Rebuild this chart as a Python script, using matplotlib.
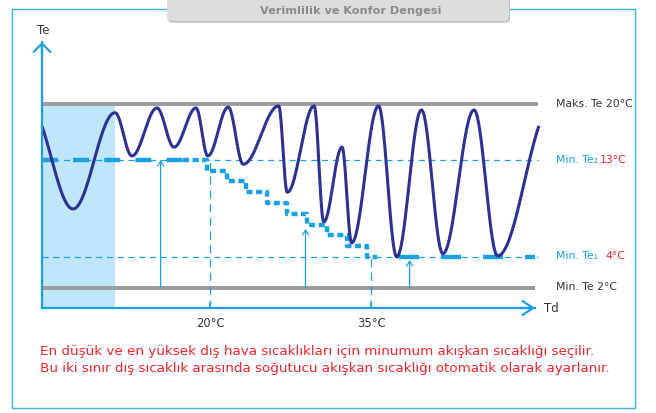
import matplotlib.pyplot as plt
import numpy as np
from matplotlib.patches import Rectangle, FancyBboxPatch

# ── Data ──────────────────────────────────────────────────────────────────────
# outdoor temperature (Td, °C) ticks shown on the x axis
td_ticks = [20, 35]
td_tick_labels = ["20°C", "35°C"]

# refrigerant temperature limits (Te, °C)
te_max, te_min = 20, 2
te2, te1 = 13, 4

# supply temperature oscillation: turning points (Td, Te)
wave_td = np.array([3.2, 7.24, 11.15, 12.73, 15.06, 16.65, 18.7, 19.8, 21.7,
                    23.1, 26.4, 27.2, 29.7, 30.6, 32.3, 33.2, 35.7, 37.4,
                    39.7, 41.7, 44.6, 46.8, 51.8])
wave_te = np.array([19.6, 8.45, 18.9, 13.5, 19.5, 14.6, 19.5, 13.5, 19.6,
                    12.6, 19.75, 10.0, 19.75, 7.25, 14.6, 5.3, 19.75, 4.0,
                    19.25, 4.3, 19.25, 4.1, 19.6])
wave_span = (4.35, 50.65)

# automatic set-point staircase between the two outdoor limits
step_td = [17.5, 19.7, 21.6, 23.4, 25.3, 27.2, 29.0, 30.9, 32.8, 34.6, 35.6]
step_te = [13, 12, 11, 10, 9, 8, 7, 6, 5, 4, 4]

# vertical arrows (Td, Te at tip)
arrow_td = [15.4, 28.9, 38.6]
arrow_te = [13, 6.6, 3.8]

shade_td = (4.35, 11.15)

# ── Colours ───────────────────────────────────────────────────────────────────
C_AX = "#1ba1e2"
C_WAVE = "#2e3192"
C_GREY = "#9b9b9d"
C_SHADE = "#bfe5f8"
C_RED = "#e8262d"
C_TXT = "#333333"

plt.rcParams["font.family"] = "DejaVu Sans"

# schematic (non-linear) Te axis
KT = np.array([-100, 2, 4, 13, 20, 100], float)
KP = np.array([20 - 102 * 15.5, 20, 51, 148, 204, 204 + 80 * 8], float)


def fwd(t):
    return np.interp(np.asarray(t, float), KT, KP)


def inv(p):
    return np.interp(np.asarray(p, float), KP, KT)


def wave(xs):
    pk = fwd(wave_te)
    i = np.clip(np.searchsorted(wave_td, xs) - 1, 0, len(wave_td) - 2)
    t = (xs - wave_td[i]) / (wave_td[i + 1] - wave_td[i])
    return inv(pk[i] + (pk[i + 1] - pk[i]) * (1 - np.cos(np.pi * t)) / 2)


fig = plt.figure(figsize=(6.56, 4.14), dpi=100)

# ── Page frame, header tab and captions ───────────────────────────────────────
bg = fig.add_axes([0, 0, 1, 1])
bg.set_xlim(0, 656)
bg.set_ylim(414, 0)
bg.axis("off")

bg.add_patch(Rectangle((12, 10), 623, 399, fill=False, ec="#3ab4e6", lw=1.0))
bg.add_patch(FancyBboxPatch((168, -8), 342, 31.5,
                            boxstyle="round,pad=0,rounding_size=4",
                            fc="#b9babc", ec="none", zorder=3))
bg.add_patch(FancyBboxPatch((167, -8), 342, 30,
                            boxstyle="round,pad=0,rounding_size=4",
                            fc="#dcdddf", ec="none", zorder=4))
bg.text(351, 11, "Verimlilik ve Konfor Dengesi", ha="center", va="center",
        fontsize=8.1, fontweight="bold", color="#8a8a8c", zorder=5)

bg.text(43, 30, "Te", ha="center", va="center", fontsize=8.5, color=C_TXT)
bg.text(551, 309, "Td", ha="center", va="center", fontsize=8.5, color=C_TXT)

bg.text(556, 104, "Maks. Te 20°C", ha="left", va="center",
        fontsize=7.8, color=C_TXT)
bg.text(556, 160, "Min. Te₂", ha="left", va="center", fontsize=7.8, color=C_AX)
bg.text(600, 160, "13°C", ha="left", va="center", fontsize=7.8, color=C_RED)
bg.text(556, 256, "Min. Te₁", ha="left", va="center", fontsize=7.8, color=C_AX)
bg.text(605, 256, "4°C", ha="left", va="center", fontsize=7.8, color=C_RED)
bg.text(556, 287, "Min. Te 2°C", ha="left", va="center",
        fontsize=7.8, color=C_TXT)

bg.text(40, 352, "En düşük ve en yüksek dış hava sıcaklıkları için minumum "
        "akışkan sıcaklığı seçilir.", ha="left", va="center",
        fontsize=9.7, color=C_RED)
bg.text(40, 369, "Bu iki sınır dış sıcaklık arasında soğutucu akışkan "
        "sıcaklığı otomatik olarak ayarlanır.", ha="left", va="center",
        fontsize=9.7, color=C_RED)

# ── Diagram ───────────────────────────────────────────────────────────────────
ax = fig.add_axes([42 / 656, 105 / 414, 493 / 656, 266 / 414])
ax.patch.set_alpha(0)
ax.set_yscale("function", functions=(fwd, inv))
ax.set_xlim(4.35, 50.28)
ax.set_ylim(0.7, 27.75)

for side in ("top", "right"):
    ax.spines[side].set_visible(False)
for side in ("left", "bottom"):
    ax.spines[side].set_color(C_AX)
    ax.spines[side].set_linewidth(1.6)
    ax.spines[side].set_zorder(6)
ax.set_yticks([])
ax.set_xticks(td_ticks, td_tick_labels)
ax.tick_params(axis="x", direction="in", length=4.5, width=1.2, color=C_AX,
               labelcolor=C_TXT, labelsize=8.3, pad=5.5)
ax.yaxis.set_minor_locator(plt.NullLocator())

# axis arrowheads
ax.annotate("", xy=(0, 1.0), xytext=(0, 0.95), xycoords="axes fraction",
            arrowprops=dict(arrowstyle="->,head_length=0.6,head_width=0.6",
                            color=C_AX, lw=1.6, shrinkA=0, shrinkB=0))
ax.annotate("", xy=(1.0, 0), xytext=(0.97, 0), xycoords="axes fraction",
            arrowprops=dict(arrowstyle="->,head_length=0.75,head_width=0.5",
                            color=C_AX, lw=1.6, shrinkA=0, shrinkB=0))

# region below the lower outdoor limit
ax.fill_between(shade_td, ax.get_ylim()[0], te_max, color=C_SHADE, lw=0,
                zorder=1)

# max / min limits
ax.plot([4.35, 50.56], [te_max, te_max], color=C_GREY, lw=2.8,
        solid_capstyle="butt", clip_on=False, zorder=2)
ax.plot([4.35, 50.28], [te_min, te_min], color=C_GREY, lw=2.8,
        solid_capstyle="butt", clip_on=False, zorder=2)

# thin reference lines
for lvl in (te2, te1):
    ax.plot([4.35, 50.56], [lvl, lvl], color=C_AX, lw=0.9,
            ls=(0, (4.8, 3.8)), clip_on=False, zorder=2)
ax.vlines(td_ticks, ax.get_ylim()[0], [te2, te1], color=C_AX, lw=0.9,
          ls=(0, (6.5, 4.5)), zorder=2)

# thick set-point lines and staircase
ax.plot([4.35, step_td[0]], [te2, te2], color=C_AX, lw=3.2,
        ls=(0, (3.6, 3.4)), dash_capstyle="butt", zorder=3)
ax.plot(step_td, step_te, drawstyle="steps-post", color=C_AX, lw=3.2,
        ls=(0, (1.35, 0.8)), dash_capstyle="butt", zorder=3)
ax.plot([step_td[-1], 50.3], [te1, te1], color=C_AX, lw=3.2,
        ls=(4.5, (4.5, 4.95)), dash_capstyle="butt", zorder=3)

# pointers from the minimum line
for x, y in zip(arrow_td, arrow_te):
    ax.annotate("", xy=(x, y), xytext=(x, te_min),
                arrowprops=dict(arrowstyle="->,head_length=0.35,head_width=0.22",
                                color=C_AX, lw=0.9, shrinkA=0, shrinkB=0),
                zorder=3)

# supply temperature
xs = np.linspace(wave_span[0], wave_span[1], 1500)
ax.plot(xs, wave(xs), color=C_WAVE, lw=2.2, clip_on=False, zorder=4,
        solid_capstyle="butt")

fig.savefig("out.png", dpi=100)
